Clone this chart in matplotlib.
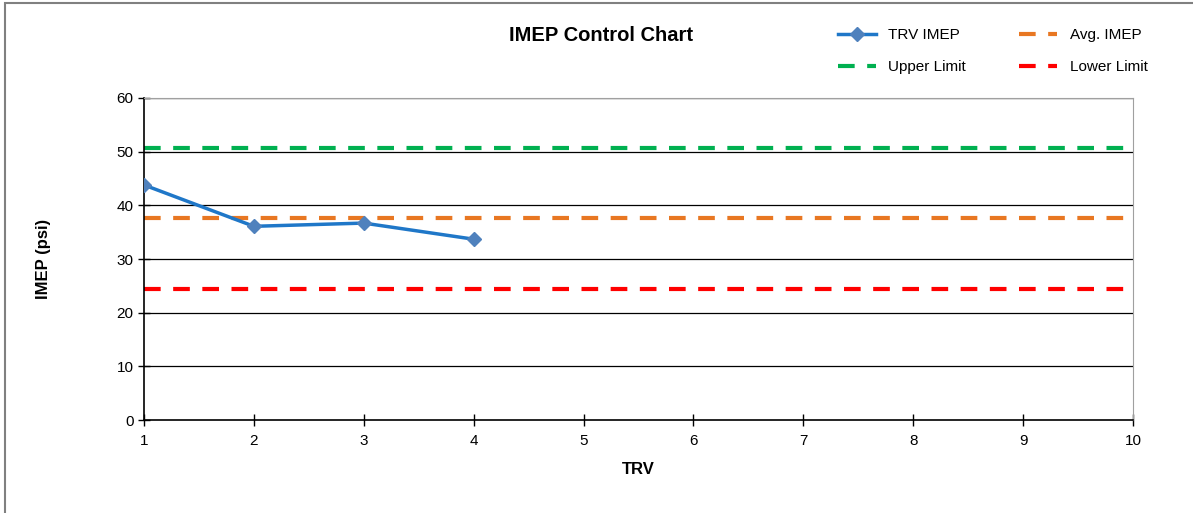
import matplotlib.pyplot as plt
from matplotlib.patches import Rectangle

plt.rcParams['font.family'] = ['Liberation Sans', 'DejaVu Sans']

trv = [1, 2, 3, 4]
imep = [43.8, 36.1, 36.7, 33.7]
avg_imep = 37.7
upper = 50.6
lower = 24.4
xticks = list(range(1, 11))
yticks = [0, 10, 20, 30, 40, 50, 60]

fig = plt.figure(figsize=(11.93, 5.13), dpi=100)
ax = fig.add_axes([0.1207, 0.181, 0.8290, 0.628])

# outer frame of the chart
fig.patches.append(Rectangle((0.004, -0.01), 1.2, 1.004, transform=fig.transFigure,
                             fill=False, edgecolor='#808080', linewidth=1.5))

for y in yticks[1:]:
    ax.axhline(y, color='black', linewidth=0.9, zorder=1)

ax.plot([1, 10], [avg_imep, avg_imep], color='#e87722', linestyle=(0, (4, 3)), linewidth=3, label='Avg. IMEP', zorder=2)
ax.plot([1, 10], [upper, upper], color='#00b050', linestyle=(0, (4, 3)), linewidth=3, label='Upper Limit', zorder=2)
ax.plot([1, 10], [lower, lower], color='#ff0000', linestyle=(0, (4, 3)), linewidth=3, label='Lower Limit', zorder=2)
ax.plot(trv, imep, color='#1f77c8', linewidth=2.5, marker='D', markersize=7,
        markerfacecolor='#4f81bd', markeredgecolor='#4f81bd', label='TRV IMEP', zorder=3)

ax.set_xlim(1, 10)
ax.set_ylim(0, 60)
ax.set_xticks(xticks)
ax.set_yticks(yticks)
ax.tick_params(direction='inout', length=8, labelsize=11, width=1)
ax.tick_params(axis='x', pad=6)
for s in ['top', 'right']:
    ax.spines[s].set_color('#a0a0a0')
ax.spines['left'].set_linewidth(1.2)
ax.spines['bottom'].set_linewidth(1.2)

ax.set_xlabel('TRV', fontsize=12, fontweight='bold', labelpad=10)
ax.set_ylabel('IMEP (psi)', fontsize=12, fontweight='bold', labelpad=47)
fig.text(0.504, 0.93, 'IMEP Control Chart', ha='center', va='center', fontsize=14.5, fontweight='bold')

h, l = ax.get_legend_handles_labels()
# column-wise fill: TRV, Upper | Avg, Lower
order = [3, 1, 0, 2]
fig.legend([h[i] for i in order], [l[i] for i in order], ncol=2, loc='center',
           bbox_to_anchor=(0.832, 0.9), frameon=False, fontsize=11,
           handlelength=2.5, columnspacing=3.5, labelspacing=1.2)

fig.savefig('out.png', dpi=100)
